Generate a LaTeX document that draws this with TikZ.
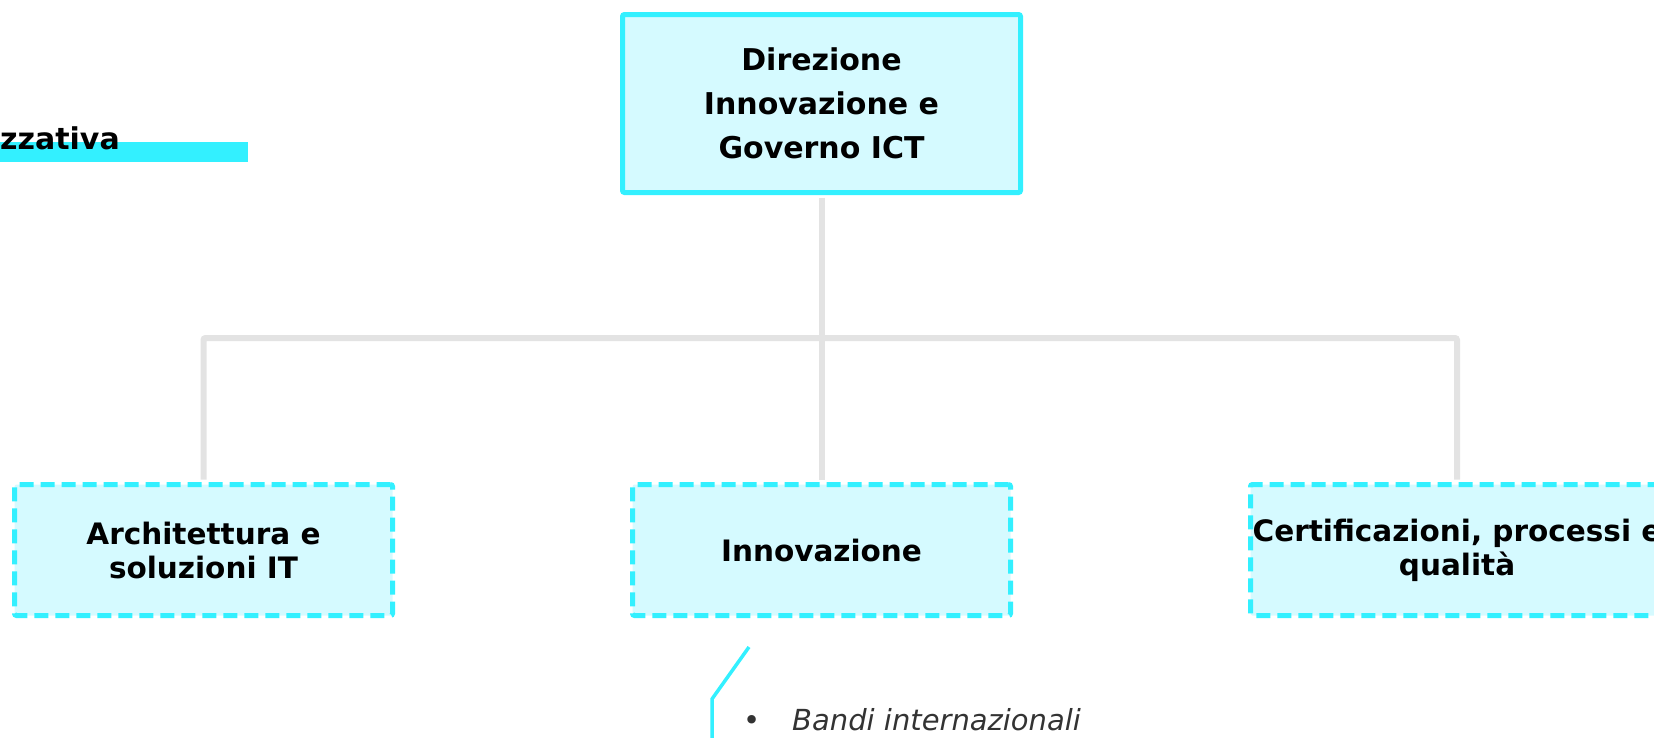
\documentclass[tikz,border=0pt]{standalone}
\usepackage{fontspec}
\setmainfont{DejaVu Sans}
\definecolor{bordo}{HTML}{33F0FF}
\definecolor{sfondo}{HTML}{D5FAFF}
\definecolor{grigio}{HTML}{E3E3E3}
\definecolor{testo}{HTML}{333333}
\begin{document}
\begin{tikzpicture}[x=1pt, y=-1pt,
  testa/.style={draw=bordo, fill=sfondo, line width=5pt, rounded corners=2pt, inner sep=0pt,
    minimum width=398pt, minimum height=178pt, align=center,
    font=\fontsize{30}{44}\selectfont\bfseries},
  ufficio/.style={draw=bordo, fill=sfondo, line width=5pt, dash pattern=on 14pt off 7pt,
    rounded corners=2pt, inner sep=0pt, minimum width=378pt, minimum height=131pt,
    align=center, font=\fontsize{29.5}{34}\selectfont\bfseries},
  filo/.style={draw=grigio, line width=6pt, rounded corners=2pt},
  voce/.style={inner sep=0pt, text=testo, font=\fontsize{29}{29}\selectfont},
]
\useasboundingbox (0,0) rectangle (1654,737);
\begin{scope}
\clip (0,0) rectangle (1654,737);

% titolo in alto a sinistra
\fill[bordo] (0,142) rectangle (248,162);
\node[anchor=base west, inner sep=0pt, font=\fontsize{30}{30}\selectfont\bfseries] (titolo) at (0,149) {zzativa};

% direzione e uffici
\node[testa] (dir) at (821.5,103.5) {Direzione\\ Innovazione e\\Governo ICT};
\node[ufficio] (arch) at (203.5,550) {Architettura e\\soluzioni IT};
\node[ufficio] (inno) at (821.5,550) {Innovazione};
\node[ufficio, minimum width=413pt] (cert) at (1457,550) {Certificazioni, processi e\\qualità};

% collegamenti
\coordinate (bus) at (822,338);
\draw[filo, shorten <=2.5pt] (dir.south) -- (dir.south |- bus);
\draw[filo, shorten <=2.5pt, shorten >=2.5pt] (arch.north) |- (cert.north |- bus) -- (cert.north);
\draw[filo, shorten <=2.5pt] (inno.north) -- (inno.north |- bus);

% richiamo sotto Innovazione
\coordinate (punta) at (749,647);
\coordinate (gomito) at (712,699);
\coordinate (piede) at (712,745);
\draw[bordo, line width=3.5pt] (punta) -- (gomito) -- (piede);
\node[voce, anchor=base] (punto) at (752,730) {\textbullet};
\node[voce, anchor=base west, font=\fontsize{29}{29}\selectfont\itshape] (bandi) at (792,730) {Bandi internazionali};
\end{scope}
\end{tikzpicture}
\end{document}
